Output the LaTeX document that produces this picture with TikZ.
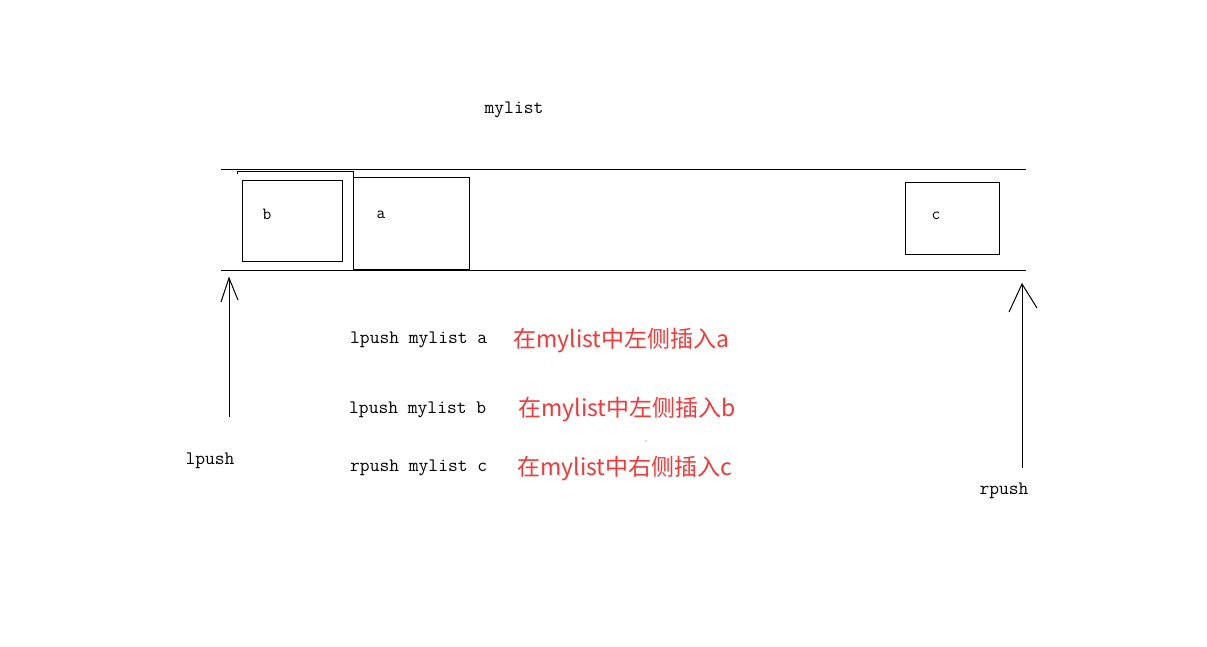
\documentclass[tikz,border=0pt]{standalone}
\usepackage{fontspec}
\newfontfamily\cjk{Noto Sans CJK SC}
\definecolor{redtxt}{RGB}{245,55,55}
\begin{document}
\begin{tikzpicture}[x=1pt,y=-1pt,
  ln/.style={draw=black,line width=1pt},
  elem/.style={draw=black,line width=1pt,inner sep=0pt},
  cmd/.style={font=\fontsize{19}{21}\ttfamily,inner sep=0pt,anchor=west},
  note/.style={font=\fontsize{23}{26}\cjk,text=redtxt,inner sep=0pt,anchor=west},
  lbl/.style={font=\fontsize{19}{21}\ttfamily,inner sep=0pt},
  arr/.style={line width=1pt}]
\useasboundingbox (0,0) rectangle (1207,646);
% list rails
\coordinate (tl) at (221,169); \coordinate (tr) at (1026,169);
\coordinate (bl) at (221,270); \coordinate (br) at (1026,270);
\draw[ln] (tl) -- (tr);
\draw[ln] (bl) -- (br);
% elements
\node[elem,minimum width=100pt,minimum height=81pt] (b) at (292,220.5) {};
\node[lbl,font=\fontsize{17}{19}\ttfamily] (bt) at (267,214) {b};
\draw[ln] (237,174) -- (237,171) -- (353,171) -- (353,269);
\coordinate (atl) at (353,177); \coordinate (abr) at (469,269);
\draw[ln] (atl) -- (469,177) -- (abr) -- (353,269);
\node[lbl,font=\fontsize{17}{19}\ttfamily] (at) at (381,215) {a};
\node[elem,minimum width=94pt,minimum height=72pt] (c) at (952,218) {};
\node[lbl,font=\fontsize{17}{19}\ttfamily] (ct) at (936,216) {c};
% title
\node[lbl] (title) at (514,110) {mylist};
% left arrow
\coordinate (lt) at (229,278); \coordinate (lb) at (229,417);
\draw[arr] (lb) -- (lt);
\draw[arr] (221,302) -- (lt) -- (238,300);
\node[lbl] (lpush) at (210,461) {lpush};
% right arrow
\coordinate (rt) at (1022,284); \coordinate (rb) at (1022,468);
\draw[arr] (rb) -- (rt);
\draw[arr] (1009,312) -- (rt) -- (1037,308);
\node[lbl] (rpush) at (1004,491) {rpush};
% commands
\node[cmd] (c1) at (350,340) {lpush mylist a};
\node[cmd] (c2) at (349,410) {lpush mylist b};
\node[cmd] (c3) at (350,468) {rpush mylist c};
\node[note] (n1) at (513,341) {在mylist中左侧插入a};
\node[note] (n2) at (518,410) {在mylist中左侧插入b};
\node[note] (n3) at (517,469) {在mylist中右侧插入c};
\fill[black!60] (646,441) circle (0.6pt);
\end{tikzpicture}
\end{document}
